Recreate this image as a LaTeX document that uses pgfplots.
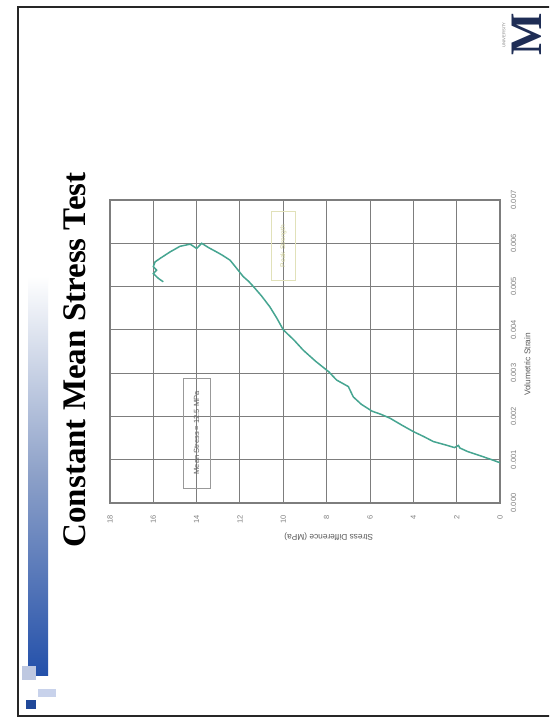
\documentclass[border=0pt]{standalone}
\usepackage{pgfplots}
\pgfplotsset{compat=1.18}
\usepackage{fontspec}
\setmainfont{Liberation Serif}
\newfontfamily\sans{Liberation Sans}
\definecolor{curve}{RGB}{70,165,145}
\definecolor{navy}{RGB}{30,45,85}
\definecolor{gridc}{RGB}{125,125,125}
\definecolor{barblue}{RGB}{35,80,170}
\definecolor{barmid}{RGB}{140,160,200}
\definecolor{sq1}{RGB}{190,200,225}
\definecolor{sq2}{RGB}{200,210,235}
\definecolor{yelbox}{RGB}{225,225,185}
\definecolor{yeltext}{RGB}{205,205,150}
\begin{document}
\begin{tikzpicture}
\useasboundingbox (0,0) rectangle (329.4pt,432.6pt);
\fill[white] (0,0) rectangle (329.4pt,432.6pt);
\begin{scope}[x=0.6pt,y=0.6pt]
\clip (0,0) rectangle (549,721);
\draw[line width=1.1pt, black!85] (18,5) rectangle (600,714);
\shade[top color=white, bottom color=barblue, middle color=barmid] (28,45) rectangle (48,445);
\fill[sq1] (22,41) rectangle (36,55);
\fill[sq2] (38,24) rectangle (56,32);
\fill[barblue!90!black] (26,12) rectangle (36,21);
\node[rotate=90, font=\fontsize{19.8}{22}\selectfont\bfseries, inner sep=0] at (75,361) {Constant Mean Stress Test};
\node[rotate=90, text=navy, font=\fontsize{27}{27}\selectfont\bfseries, inner sep=0] at (527,687) {M};
\node[rotate=90, text=gray, font=\sans\fontsize{2.5}{3}\selectfont, inner sep=0] at (504,686) {UNIVERSITY};
\end{scope}
\begin{axis}[at={(66pt,130.8pt)}, anchor=south west,
  width=234pt, height=181.8pt, scale only axis,
  xmin=0, xmax=18, ymin=0, ymax=7, x dir=reverse,
  xtick={0,2,...,18}, ytick={0,1,...,7},
  yticklabels={0.000,0.001,0.002,0.003,0.004,0.005,0.006,0.007},
  yticklabel pos=right,
  /pgf/number format/assume math mode=true,
  grid=major, major grid style={gridc, line width=0.6pt},
  axis line style={gridc, line width=0.8pt},
  tick style={draw=none},
  ticklabel style={font=\sans\fontsize{4.5}{5}\selectfont, text=gray},
  xticklabel style={rotate=90, anchor=east},
  yticklabel style={rotate=90, anchor=north},
  xticklabel shift=4pt, yticklabel shift=3pt,
  clip=false]
\addplot[curve, line width=0.9pt] coordinates {
(0,0.93) (0.38,1.0) (0.9,1.09) (1.5,1.19) (1.85,1.27) (1.92,1.33) (2.1,1.28) (2.5,1.34) (3.08,1.42) (3.5,1.53) (4.0,1.65) (4.5,1.79) (5.08,1.96) (5.5,2.05) (5.9,2.12) (6.4,2.28) (6.77,2.45) (7.0,2.69) (7.54,2.84) (7.9,3.03) (8.5,3.27) (9.08,3.53) (9.5,3.76) (10.0,4.0) (10.3,4.27) (10.62,4.53) (11.0,4.78) (11.38,5.0) (11.6,5.12) (11.85,5.23) (12.2,5.45) (12.46,5.61) (12.8,5.72) (13.08,5.80) (13.45,5.90) (13.77,6.0) (14.0,5.88) (14.3,5.98) (14.77,5.93) (15.23,5.80) (15.69,5.65) (15.92,5.57) (16.0,5.46) (15.85,5.38) (16.0,5.30) (15.77,5.19) (15.54,5.11)
};
\node[rotate=90, draw=gray!80, line width=0.4pt, minimum width=66pt, minimum height=16pt, inner sep=1pt, font=\sans\fontsize{4.5}{5}\selectfont, text=gray!80!black] at (axis cs:14.0,1.62) {Mean Stress = 12.5 MPa};
\node[rotate=90, draw=yelbox, line width=0.4pt, minimum width=41pt, minimum height=14pt, inner sep=1pt, font=\sans\fontsize{4}{5}\selectfont, text=yeltext] at (axis cs:10.0,5.94) {Peak Strength};
\node[rotate=180, font=\sans\fontsize{5}{6}\selectfont, text=gray!70!black] at ([yshift=-20pt]axis cs:7.9,0) {Stress Difference (MPa)};
\node[rotate=90, font=\sans\fontsize{5}{6}\selectfont, text=gray!70!black] at ([xshift=16.5pt]axis cs:0,3.2) {Volumetric Strain};
\end{axis}
\end{tikzpicture}
\end{document}
